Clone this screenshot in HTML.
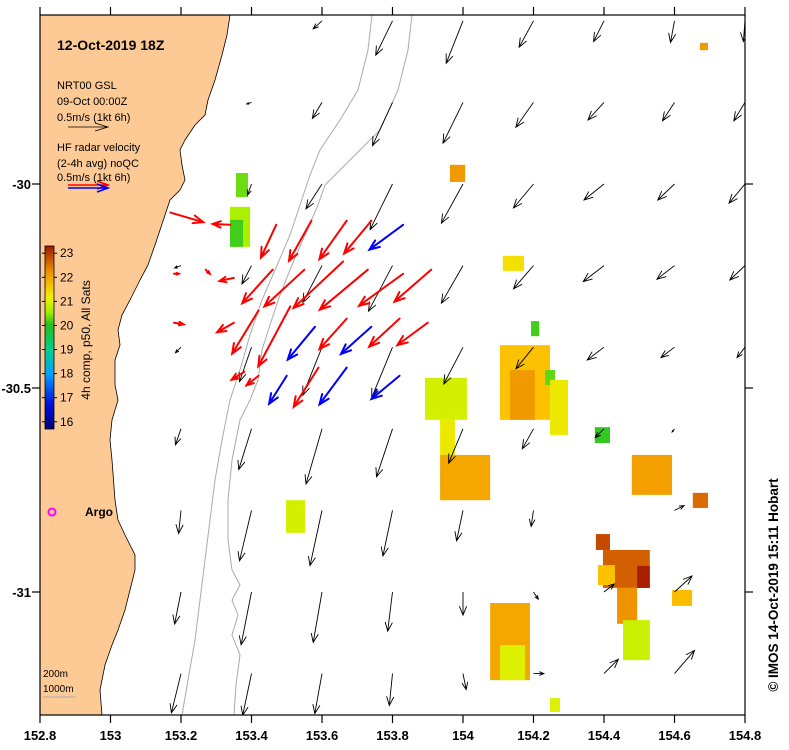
<!DOCTYPE html>
<html><head><meta charset="utf-8">
<style>
html,body{margin:0;padding:0;background:#fff;width:789px;height:750px;overflow:hidden}
svg{display:block;font-family:"Liberation Sans",sans-serif}
</style></head>
<body>
<svg id="map" width="789" height="750" viewBox="0 0 789 750" xmlns="http://www.w3.org/2000/svg">
<defs>
<clipPath id="plotclip"><rect x="40" y="15" width="705" height="700"/></clipPath>
<linearGradient id="cbar" x1="0" y1="1" x2="0" y2="0">
<stop offset="0" stop-color="#00007a"/><stop offset="0.14" stop-color="#0010e0"/><stop offset="0.3" stop-color="#00a0ff"/>
<stop offset="0.43" stop-color="#00d090"/><stop offset="0.57" stop-color="#20c020"/><stop offset="0.64" stop-color="#a0f000"/>
<stop offset="0.72" stop-color="#f0f000"/><stop offset="0.86" stop-color="#f09000"/><stop offset="1" stop-color="#a01800"/>
</linearGradient>
</defs>
<g id="plot" clip-path="url(#plotclip)">
<path fill="#fdca96" stroke="#000" stroke-width="0.8" d="M40,15 L230,15 L227,35 L222,55 L215,80 L208,100 L205,115 L195,125 L185,140 L180,150 L182,165 L185,180 L180,190 L170,200 L165,215 L160,230 L155,245 L148,265 L140,280 L130,300 L122,315 L118,330 L120,345 L115,360 L115,385 L118,400 L112,420 L110,440 L112,460 L115,500 L118,520 L125,535 L135,555 L135,570 L130,590 L125,610 L118,630 L112,645 L105,665 L100,690 L102,715 L40,715 Z"/>
<path fill="none" stroke="#aaa" stroke-width="1" d="M372,15 L368,50 L358,90 L340,120 L320,150 L310,175 L300,205 L290,235 L275,270 L262,300 L250,335 L240,370 L230,400 L222,440 L215,480 L210,520 L205,560 L200,600 L195,640 L188,680 L182,715"/>
<path fill="none" stroke="#aaa" stroke-width="1" d="M412,15 L408,50 L398,90 L380,130 L345,165 L325,185 L318,205 L305,235 L292,265 L280,295 L270,325 L262,350 L258,380 L250,400 L240,420 L232,460 L228,500 L228,540 L232,570 L240,585 L232,600 L238,615 L232,635 L240,655 L236,685 L234,715"/>
<g id="sst"></g>
<g id="model"></g>
<g id="radar"></g>
</g>
<rect x="40" y="15" width="705" height="700" fill="none" stroke="#000" stroke-width="1.2"/>
<g id="axes"></g>

<text x="57" y="50" font-size="14" font-weight="bold">12-Oct-2019 18Z</text>
<g font-size="11">
<text x="57" y="89">NRT00 GSL</text>
<text x="57" y="105">09-Oct 00:00Z</text>
<text x="57" y="121">0.5m/s (1kt 6h)</text>
<path d="M68,127 L108,127 M95,123 L108,127 L95,131" stroke="#000" stroke-width="0.8" fill="none"/>
</g>
<g font-size="11">
<text x="57" y="151">HF radar velocity</text>
<text x="57" y="167">(2-4h avg) noQC</text>
<text x="57" y="181">0.5m/s (1kt 6h)</text>
<path d="M68,185 L108,185 M97,181 L108,185 L97,189" stroke="#f00" stroke-width="1.6" fill="none"/>
<path d="M68,188 L108,188 M97,184 L108,188 L97,192" stroke="#00f" stroke-width="1.6" fill="none"/>
</g>
<g>
<rect x="45" y="246" width="9" height="183" fill="url(#cbar)" stroke="#000" stroke-width="0.8"/>
<g id="cbticks" font-size="12"></g>
<text x="90" y="340" font-size="12" text-anchor="middle" transform="rotate(-90 90 340)">4h comp, p50, All Sats</text>
</g>
<g>
<circle cx="52" cy="512" r="3.5" fill="none" stroke="#f0f" stroke-width="2"/>
<text x="85" y="516" font-size="12" font-weight="bold">Argo</text>
</g>
<g font-size="10">
<text x="43" y="677">200m</text>
<text x="43" y="692">1000m</text>
<line x1="43" y1="697" x2="76" y2="697" stroke="#aaa"/>
</g>
<text x="778" y="585" font-size="13.5" font-weight="bold" text-anchor="middle" transform="rotate(-90 778 585)">© IMOS 14-Oct-2019 15:11 Hobart</text>
</svg>
<script>
// ---- data ----
const lonTicks = [152.8,153,153.2,153.4,153.6,153.8,154,154.2,154.4,154.6,154.8];
const lonTickLabels = ["152.8","153","153.2","153.4","153.6","153.8","154","154.2","154.4","154.6","154.8"];
const latTicks = [-30,-30.5,-31];
const latTickLabels = ["-30","-30.5","-31"];
const cbValues = [16,17,18,19,20,21,22,23];
const gridLon = [153.2,153.4,153.6,153.8,154.0,154.2,154.4,154.6,154.8];
const gridLat = [-29.6,-29.8,-30.0,-30.2,-30.4,-30.6,-30.8,-31.0,-31.2];
const modelU = [
 [0,0,-0.11,-0.21,-0.21,-0.18,-0.13,-0.05,-0.02],
 [0,-0.06,-0.12,-0.25,-0.25,-0.22,-0.2,-0.15,-0.14],
 [0,-0.05,-0.2,-0.28,-0.27,-0.25,-0.25,-0.21,-0.2],
 [-0.08,-0.12,-0.24,-0.3,-0.27,-0.25,-0.26,-0.22,-0.19],
 [-0.07,-0.15,-0.24,-0.26,-0.24,-0.22,-0.21,-0.17,-0.1],
 [-0.07,-0.16,-0.2,-0.2,-0.18,-0.14,-0.11,-0.03,0],
 [-0.03,-0.15,-0.15,-0.12,-0.08,-0.03,0,0.12,0],
 [-0.08,-0.13,-0.11,-0.06,0,0.06,0.13,0.22,0],
 [-0.12,-0.11,-0.09,-0.04,0.04,0.13,0.18,0.25,0]];
const modelV = [
 [0,0,-0.1,-0.43,-0.53,-0.33,-0.26,-0.27,-0.26],
 [0,-0.02,-0.2,-0.54,-0.51,-0.31,-0.22,-0.23,-0.23],
 [0,-0.14,-0.31,-0.57,-0.49,-0.3,-0.2,-0.2,-0.24],
 [-0.03,-0.23,-0.46,-0.57,-0.47,-0.29,-0.2,-0.17,-0.18],
 [-0.07,-0.43,-0.6,-0.63,-0.46,-0.27,-0.16,-0.13,-0.13],
 [-0.2,-0.51,-0.69,-0.6,-0.43,-0.25,-0.11,-0.04,0],
 [-0.29,-0.63,-0.69,-0.57,-0.38,-0.2,0,0.06,0],
 [-0.4,-0.66,-0.63,-0.49,-0.29,-0.09,0.1,0.2,0],
 [-0.49,-0.52,-0.5,-0.4,-0.2,0,0.18,0.29,0]];
const radarLon = [153.47,153.57,153.67,153.74,153.83, 153.46,153.55,153.66,153.73,153.83,153.91, 153.42,153.51,153.58,153.74,153.67,153.82,153.90, 153.38,153.42,153.50,153.59,153.67,153.82, 153.17,153.34,153.18,153.27,153.35,153.18,153.35];
const radarLat = [-30.10,-30.09,-30.09,-30.09,-30.10, -30.21,-30.21,-30.19,-30.21,-30.22,-30.21, -30.31,-30.30,-30.35,-30.35,-30.33,-30.33,-30.34, -30.46,-30.47,-30.47,-30.45,-30.45,-30.47, -30.07,-30.10,-30.22,-30.21,-30.23,-30.34,-30.34];
const radarU = [-0.19,-0.28,-0.34,-0.34,-0.42, -0.38,-0.5,-0.62,-0.6,-0.55,-0.46, -0.33,-0.4,-0.34,-0.38,-0.34,-0.38,-0.38, -0.16,-0.15,-0.22,-0.31,-0.34,-0.35, 0.41,-0.22,0.06,0.05,-0.18,0.12,-0.21];
const radarV = [-0.41,-0.5,-0.48,-0.41,-0.31, -0.42,-0.46,-0.58,-0.5,-0.4,-0.4, -0.54,-0.75,-0.41,-0.34,-0.38,-0.35,-0.28, -0.1,-0.12,-0.35,-0.49,-0.46,-0.29, -0.12,0.01,0,-0.05,-0.04,-0.02,-0.12];
const radarType = ["r","r","r","r","b", "r","r","r","r","r","r", "r","r","b","b","r","r","r", "r","r","b","r","b","b", "r","r","r","r","r","r","r"];
// SST patches: lon0, lon1, lat0 (north), lat1 (south), temperature
const sstLon0 = [153.356,153.339,153.339,153.963,154.113,154.193,154.105,154.133,154.233,154.247,153.892,153.935,153.935,154.374,154.479,154.652,154.377,154.397,154.494,154.437,154.383,154.593,154.077,154.105,153.498,154.672,154.247,154.454];
const sstLon1 = [153.390,153.396,153.376,154.006,154.173,154.216,154.247,154.204,154.261,154.298,154.011,153.977,154.077,154.417,154.593,154.695,154.417,154.530,154.530,154.494,154.431,154.650,154.190,154.176,153.552,154.695,154.275,154.530];
const sstLat0 = [-29.973,-30.056,-30.088,-29.953,-30.176,-30.336,-30.395,-30.456,-30.456,-30.480,-30.475,-30.578,-30.664,-30.596,-30.664,-30.757,-30.858,-30.897,-30.936,-30.990,-30.934,-30.995,-31.027,-31.130,-30.775,-29.654,-31.260,-31.069];
const sstLat1 = [-30.032,-30.154,-30.154,-29.995,-30.213,-30.373,-30.578,-30.578,-30.493,-30.615,-30.578,-30.664,-30.775,-30.635,-30.762,-30.794,-30.897,-30.990,-30.990,-31.078,-30.983,-31.034,-31.216,-31.216,-30.855,-29.672,-31.294,-31.167];
const sstTemp = [19.6,20.0,19.3,21.8,20.8,19.3,21.2,21.8,19.5,20.7,20.4,20.7,21.6,19.2,21.7,22.3,22.6,22.4,23.0,21.9,21.2,21.3,21.6,20.5,20.4,21.8,20.5,20.3];

// ---- scales ----
const X = lon => 40 + (lon - 152.8) * 352.5;
const Y = lat => 184 - (lat + 30) * 408;
const PXMS = 80; // px per m/s
const NS = "http://www.w3.org/2000/svg";
function mk(tag, attrs, parent){ const e=document.createElementNS(NS,tag); for(const k in attrs) e.setAttribute(k,attrs[k]); parent.appendChild(e); return e; }
const cstops=[[16,[0,0,122]],[17,[0,20,230]],[18,[0,170,255]],[19,[20,190,40]],[20,[170,240,0]],[20.6,[230,240,0]],[21,[255,208,0]],[22,[238,140,0]],[23,[170,30,0]]];
function tcol(t){ if(t<=16) return "rgb(0,0,122)"; for(let i=1;i<cstops.length;i++){ if(t<=cstops[i][0]){ const a=cstops[i-1],b=cstops[i],f=(t-a[0])/(b[0]-a[0]); const c=a[1].map((v,j)=>Math.round(v+(b[1][j]-v)*f)); return `rgb(${c})`; } } return "rgb(170,30,0)"; }

// SST
const sst=document.getElementById('sst');
for(let i=0;i<sstTemp.length;i++){
  const r=mk('rect',{x:X(sstLon0[i]),y:Y(sstLat0[i]),width:X(sstLon1[i])-X(sstLon0[i]),height:Y(sstLat1[i])-Y(sstLat0[i]),fill:tcol(sstTemp[i])},sst);
  
  
}
function arrowPath(x,y,u,v,head){
  const dx=u*PXMS, dy=-v*PXMS, L=Math.hypot(dx,dy); if(L<1) return null;
  const ex=x+dx, ey=y+dy, ux=dx/L, uy=dy/L, h=Math.min(head,L*0.45);
  const a1x=ex-h*ux+h*0.4*uy, a1y=ey-h*uy-h*0.4*ux, a2x=ex-h*ux-h*0.4*uy, a2y=ey-h*uy+h*0.4*ux;
  return `M${x},${y} L${ex},${ey} M${a1x},${a1y} L${ex},${ey} L${a2x},${a2y}`;
}
const model=document.getElementById('model');
for(let r=0;r<gridLat.length;r++) for(let c=0;c<gridLon.length;c++){
  const d=arrowPath(X(gridLon[c]),Y(gridLat[r]),modelU[r][c],modelV[r][c],9); if(!d) continue;
  const p=mk('path',{d:d,stroke:'#000','stroke-width':0.9,fill:'none'},model);
  
  
}
const radar=document.getElementById('radar');
for(let i=0;i<radarLon.length;i++){
  const d=arrowPath(X(radarLon[i]),Y(radarLat[i]),radarU[i],radarV[i],10); if(!d) continue;
  const p=mk('path',{d:d,stroke:radarType[i]==='b'?'#0000ff':'#ff0000','stroke-width':2,fill:'none','stroke-linecap':'round'},radar);
  
  
}
// axes
const ax=document.getElementById('axes');
lonTicks.forEach((v,i)=>{
  const x=X(v);
  mk('line',{x1:x,y1:715,x2:x,y2:723,stroke:'#000','stroke-width':1.2},ax);
  mk('line',{x1:x,y1:15,x2:x,y2:7,stroke:'#000','stroke-width':1.2},ax);
  const t=mk('text',{x:x,y:740,'font-size':13,'font-weight':'bold','text-anchor':'middle'},ax);
  t.textContent=lonTickLabels[i];
  
  
});
latTicks.forEach((v,i)=>{
  const y=Y(v);
  mk('line',{x1:40,y1:y,x2:32,y2:y,stroke:'#000','stroke-width':1.2},ax);
  mk('line',{x1:745,y1:y,x2:753,y2:y,stroke:'#000','stroke-width':1.2},ax);
  const t=mk('text',{x:31,y:y+5,'font-size':13,'font-weight':'bold','text-anchor':'end'},ax);
  t.textContent=latTickLabels[i];
  
  
});
const cb=document.getElementById('cbticks');
cbValues.forEach(v=>{
  const y=429-(v-15.7)*(183/7.6);
  mk('line',{x1:42,y1:y,x2:45,y2:y,stroke:'#000'},cb);
  mk('line',{x1:54,y1:y,x2:57,y2:y,stroke:'#000'},cb);
  const t=mk('text',{x:60,y:y+4},cb);
  t.textContent=String(v);
  
  
});
</script>
</body></html>
